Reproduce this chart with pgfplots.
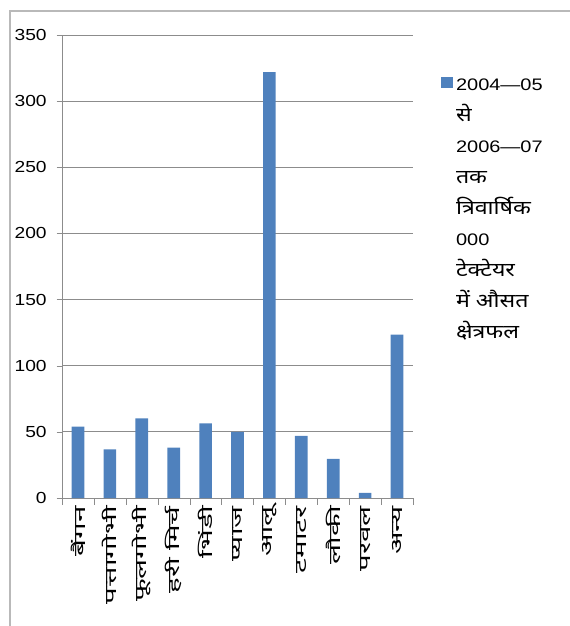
\documentclass[border=0pt]{standalone}
\usepackage{fontspec}
\setmainfont{Liberation Sans}[FakeStretch=1.2]
\newfontfamily\hindilab[Script=Devanagari,FakeStretch=1.85]{Noto Sans}
\newfontfamily\hindileg[Script=Devanagari,FakeStretch=1.2]{Noto Sans}
\usepackage{pgfplots}
\pgfplotsset{compat=1.18}
\definecolor{barblue}{HTML}{4F81BD}
\definecolor{gridgray}{HTML}{8C8C8C}
\newcommand{\hl}[1]{{\hindileg\fontsize{14.5}{23.25}\selectfont #1}}
\begin{document}
\begin{tikzpicture}[x=1pt,y=1pt]
\useasboundingbox (0,0) rectangle (427.5,469.5);
\draw[gray!55, line width=1pt] (7.5,0) -- (7.5,461.25) -- (427.5,461.25);
\begin{axis}[
  at={(46.5pt,96pt)}, anchor=south west,
  scale only axis, width=263.25pt, height=347.25pt,
  xmin=-0.5, xmax=10.5, ymin=0, ymax=350,
  ytick={0,50,...,350},
  xtick={0,...,10},
  xticklabels={बैंगन,पत्तागोभी,फूलगोभी,हरी मिर्च,भिंडी,प्याज,आलू,टमाटर,लौकी,परवल,अन्य},
  x tick label style={rotate=90, anchor=east, font=\hindilab\fontsize{12}{14}\selectfont, inner sep=2pt},
  y tick label style={font=\fontsize{12}{14}\selectfont, xshift=-4pt},
  /pgf/number format/assume math mode=true,
  minor xtick={-0.5,0.5,...,10.5},
  major x tick style={draw=none},
  minor x tick style={draw=gridgray},
  major y tick style={draw=gridgray},
  major tick length=4pt, minor tick length=5pt,
  tick align=outside,
  axis x line*=bottom, axis y line*=left,
  axis line style={gridgray,-},
  ymajorgrids, grid style={gridgray, line width=0.6pt},
  legend style={at={(1.08,0.934)}, anchor=north west, draw=none, fill=none,
    inner sep=0pt, font=\fontsize{12.5}{23.25}\selectfont},
  legend cell align=left,
  legend image code/.code={\fill[barblue] (0pt,-6pt) rectangle (9pt,2.5pt);},
]
\addplot[ybar, bar width=9.5pt, fill=barblue, draw=none] coordinates {
  (0,54) (1,36.7) (2,60.2) (3,38) (4,56.4) (5,50) (6,322) (7,47) (8,29.6) (9,3.8) (10,123.5)
};
\addlegendentry{\begin{tabular}[t]{@{}l@{}}2004---05\\ \hl{से}\\ 2006---07\\ \hl{तक}\\ \hl{त्रिवार्षिक}\\ 000\\ \hl{टेक्टेयर}\\ \hl{में औसत}\\ \hl{क्षेत्रफल}\end{tabular}}
\end{axis}
\end{tikzpicture}
\end{document}
